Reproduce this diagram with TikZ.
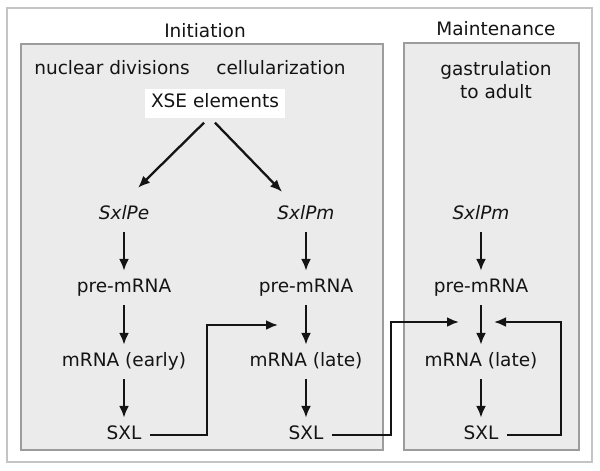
\documentclass[tikz,border=0pt]{standalone}
\usepackage{fontspec}
\setmainfont{DejaVu Sans}
\usetikzlibrary{arrows.meta}
\definecolor{boxgray}{HTML}{EBEBEB}
\definecolor{edgegray}{HTML}{9C9C9C}
\definecolor{framegray}{HTML}{C4C4C4}
\definecolor{ink}{HTML}{141414}
\tikzstyle{stage}=[draw=edgegray, fill=boxgray, line width=1.2pt]
\tikzstyle{term}=[text=ink, inner sep=8.5pt, text height=13pt, text depth=4pt]
\tikzstyle{gene}=[term, font=\fontsize{18.5}{23}\selectfont\itshape]
\tikzstyle{flow}=[->, line width=2.3pt, draw=ink]

\begin{document}
\begin{tikzpicture}[>={Latex[length=12pt,width=10pt]}, x=1pt, y=-1pt, font=\fontsize{18.5}{23}\selectfont]
    \useasboundingbox (0,0) rectangle (600,471);

    % Frame and stages
    \draw[draw=framegray, line width=1.2pt] (7,8) rectangle (592,462);
    \draw[stage] (21,44) rectangle (383,450);
    \draw[stage] (404,43) rectangle (579,450);

    % Headings
    \draw (205,33) node[term] (init) {Initiation};
    \draw (496,31) node[term] (maint) {Maintenance};
    \draw (112,70) node[term] (nuc) {nuclear divisions};
    \draw (281,70) node[term] (cell) {cellularization};
    \draw (496,80) node[text=ink, align=center] (gast) {gastrulation\\to adult};
    \draw (215,103) node[term, fill=white, inner sep=6pt] (xse) {XSE elements};

    % Early column
    \draw (124,215) node[gene] (pe) {SxlPe};
    \draw (124,288) node[term] (pree) {pre-mRNA};
    \draw (124,362) node[term] (mre) {mRNA (early)};
    \draw (124,435) node[term] (sxle) {SXL};

    % Late column
    \draw (306,215) node[gene] (pm) {SxlPm};
    \draw (306,288) node[term] (prel) {pre-mRNA};
    \draw (306,362) node[term] (mrl) {mRNA (late)};
    \draw (306,435) node[term] (sxll) {SXL};

    % Maintenance column
    \draw (481,215) node[gene] (pmm) {SxlPm};
    \draw (481,288) node[term] (prem) {pre-mRNA};
    \draw (481,362) node[term] (mrm) {mRNA (late)};
    \draw (481,435) node[term] (sxlm) {SXL};

    % Feedback targets
    \coordinate (inl) at (278,325);
    \coordinate (inm) at (459,322);
    \coordinate (inr) at (494,322);

    % Arrows
    \draw[flow] ([xshift=-11pt,yshift=-5pt]xse.south) -- ([xshift=14pt,yshift=10pt]pe.north);
    \draw[flow] ([yshift=-5pt]xse.south) -- ([xshift=-24pt,yshift=6pt]pm.north);
    \draw[flow] (pe) -- (pree);
    \draw[flow] (pree) -- (mre);
    \draw[flow] (mre) -- (sxle);
    \draw[flow] (pm) -- (prel);
    \draw[flow] (prel) -- (mrl);
    \draw[flow] (mrl) -- (sxll);
    \draw[flow] (pmm) -- (prem);
    \draw[flow] (prem) -- (mrm);
    \draw[flow] (mrm) -- (sxlm);
    \draw[flow] (sxle.east) -- ++(57,0) |- (inl);
    \draw[flow] (sxll.east) -- ++(59,0) |- (inm);
    \draw[flow] (sxlm.east) -- ++(54,0) |- (inr);

\end{tikzpicture}
\end{document}
